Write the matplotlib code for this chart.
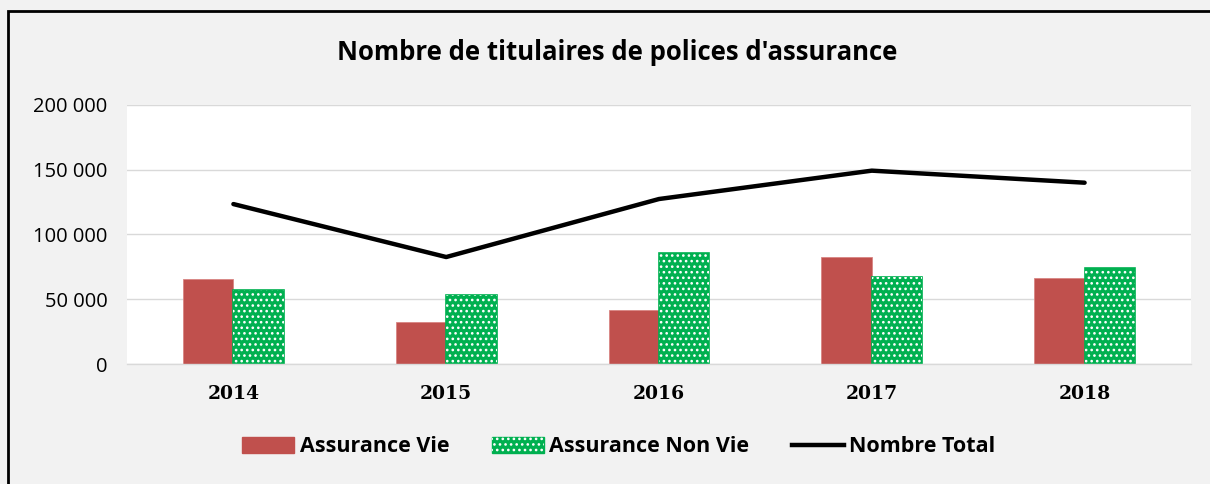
import matplotlib
matplotlib.use("Agg")
import matplotlib.pyplot as plt
from matplotlib.patches import Rectangle, Patch
from matplotlib.lines import Line2D
from matplotlib.legend_handler import HandlerTuple
from matplotlib.ticker import FuncFormatter
import numpy as np

years = ["2014", "2015", "2016", "2017", "2018"]
vie = [65600, 32400, 41700, 82400, 66600]
non_vie = [57100, 53300, 85700, 67400, 74400]
total = [123500, 82600, 127400, 149300, 140000]

title = "Nombre de titulaires de polices d'assurance"
labels = ["Assurance Vie", "Assurance Non Vie", "Nombre Total"]

RED = "#c0504d"
GREEN = "#00b050"
BG = "#f2f2f2"

plt.rcParams["hatch.linewidth"] = 1.1

fig = plt.figure(figsize=(12.1, 4.84), dpi=100, facecolor=BG)
ax = fig.add_axes([127/1210, 1-364/484, (1191-127)/1210, (364-105)/484])
ax.set_facecolor("white")

x = np.arange(len(years))
w = 0.237
ax.bar(x - w/2, vie, w, color=RED, edgecolor="#d98583", linewidth=0.6, zorder=2)
ax.bar(x + w/2, non_vie, w, color=GREEN, edgecolor=GREEN, linewidth=1.2, zorder=2)
ax.bar(x + w/2, non_vie, w, facecolor="none", edgecolor="white", hatch="...", linewidth=0, zorder=3)
ax.plot(x, total, color="black", linewidth=3.2, solid_capstyle="round", zorder=4)

ax.set_xlim(-0.5, len(years) - 0.5)
ax.set_ylim(0, 200000)
ax.set_yticks(np.arange(0, 200001, 50000))
ax.yaxis.set_major_formatter(FuncFormatter(lambda v, p: f"{int(v):,}".replace(",", " ")))
ax.grid(axis="y", color="#d9d9d9", linewidth=1, zorder=0)
ax.set_axisbelow(True)
for s in ["top", "right", "left"]:
    ax.spines[s].set_visible(False)
ax.spines["bottom"].set_color("#d9d9d9")
ax.spines["bottom"].set_linewidth(1)
ax.tick_params(axis="both", length=0)
ax.tick_params(axis="y", pad=14)
ax.tick_params(axis="x", pad=15)
ax.set_xticks(x)
ax.set_xticklabels(years, fontfamily="DejaVu Serif", fontweight="bold", fontsize=13.5)
for t in ax.get_yticklabels():
    t.set_fontfamily("Open Sans")
    t.set_fontsize(14.5)

fig.text(617/1210, 1-53/484, title, ha="center", va="center",
         fontsize=18.5, fontweight="bold", fontfamily="Open Sans")

green_handle = (Patch(facecolor=GREEN, edgecolor=GREEN),
                Patch(facecolor="none", edgecolor="white", hatch="...", linewidth=0))
handles = [Patch(facecolor=RED, edgecolor=RED),
           green_handle,
           Line2D([0], [0], color="black", linewidth=3.2)]
leg = fig.legend(handles, labels, loc="center", bbox_to_anchor=(619/1210, 1-447/484),
                 ncol=3, frameon=False, handlelength=2.4, handletextpad=0.25, columnspacing=2.0,
                 handler_map={tuple: HandlerTuple(ndivide=1, pad=0)},
                 prop={"family": "Open Sans", "weight": "bold", "size": 15.5})

fig.patches.append(Rectangle((8/1210, -0.05), 1.2, 1-11/484+0.05, transform=fig.transFigure,
                             fill=False, edgecolor="black", linewidth=2))

fig.savefig("out.png", dpi=100, facecolor=BG)
